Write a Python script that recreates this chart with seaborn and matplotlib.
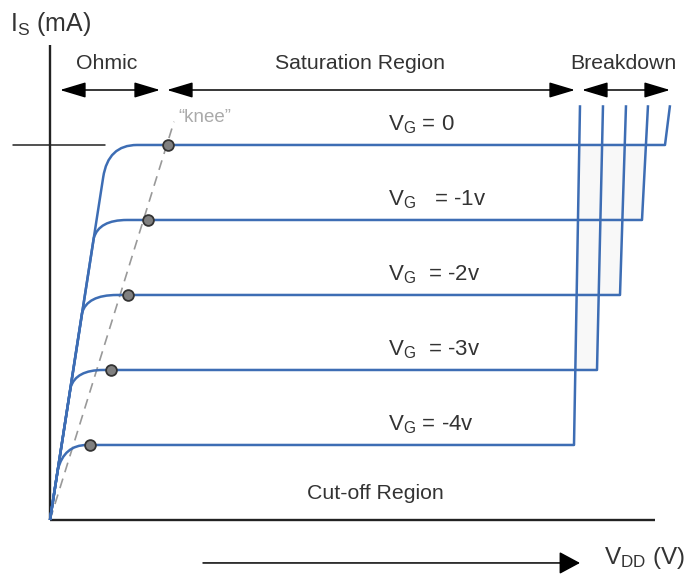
import numpy as np
import seaborn as sns
import matplotlib.pyplot as plt
from matplotlib.path import Path
from matplotlib.patches import PathPatch

sns.set_theme(style='white')
plt.rcParams['font.family'] = ['Liberation Sans', 'DejaVu Sans']
plt.rcParams['mathtext.fontset'] = 'custom'
plt.rcParams['mathtext.rm'] = 'Liberation Sans'
plt.rcParams['mathtext.it'] = 'Liberation Sans:italic'

# gate voltage curves (x = V_DD in V, y = I_S in mA)
vg_labels = ['$\\mathrm{V_G}$ = 0', '$\\mathrm{V_G}$   = -1v', '$\\mathrm{V_G}$  = -2v',
             '$\\mathrm{V_G}$  = -3v', '$\\mathrm{V_G}$ = -4v']
i_sat = [5.0, 4.0, 3.0, 2.0, 1.0]
branch_v = [2.66, 2.19, 1.6, 1.03, 0.39]
branch_i = [4.57, 3.76, 2.76, 1.77, 0.67]
bend_v = [2.9, 2.45, 1.85, 1.3, 0.7]
flat_v = [4.35, 3.85, 3.35, 2.65, 1.85]
knee_v = [5.9, 4.9, 3.9, 3.05, 2.0]
break_v = [30.75, 29.6, 28.5, 27.35, 26.2]
break_top_v = [31.0, 29.9, 28.8, 27.65, 26.5]
break_top_i = 5.53

knee_line_v = [0.0, 6.2]
knee_line_i = [0.0, 5.31]

blue = '#3d6db4'
txt = '#333333'
fs = 15.3

fig = plt.figure(figsize=(6.98, 5.79), dpi=100)
ax = fig.add_axes([0, 0, 1, 1])
ax.set_xlim(-2.5, 32.4)
ax.set_ylim(-0.787, 6.933)
ax.axis('off')


def break_x(j, i):
    # x of the (slightly slanted) breakdown line of curve j at current i
    return break_v[j] + (i - i_sat[j]) / (break_top_i - i_sat[j]) * (break_top_v[j] - break_v[j])


# faint shading between breakdown lines
for k in range(1, 4):
    j = k + 1
    poly = [(break_x(j, i_sat[k]), i_sat[k]), (break_v[k], i_sat[k]),
            (break_x(k, i_sat[0]), i_sat[0]), (break_x(j, i_sat[0]), i_sat[0])]
    ax.fill([p[0] for p in poly], [p[1] for p in poly], color='#f8f8f8', zorder=1, lw=0)

# axes
ax.plot([0, 0], [0, 6.33], color='#222222', lw=1.7, zorder=2, solid_capstyle='butt')
ax.plot([0, 30.25], [0, 0], color='#222222', lw=1.7, zorder=2, solid_capstyle='butt')
ax.plot([-1.85, 2.75], [5.0, 5.0], color='#222222', lw=1.1, zorder=2)

# curves
for k in range(5):
    verts = [(0, 0), (branch_v[k], branch_i[k]), (bend_v[k], i_sat[k]), (flat_v[k], i_sat[k]),
             (break_v[k], i_sat[k]), (break_top_v[k], break_top_i)]
    codes = [Path.MOVETO, Path.LINETO, Path.CURVE3, Path.CURVE3, Path.LINETO, Path.LINETO]
    ax.add_patch(PathPatch(Path(verts, codes), fill=False, edgecolor=blue, lw=1.8,
                           joinstyle='round', zorder=3))
    ax.text(16.9, i_sat[k] + 0.27, vg_labels[k], fontsize=16, color=txt, va='center', ha='left')

# knee line and knee points
sns.lineplot(x=knee_line_v, y=knee_line_i, ax=ax, color='#999999', lw=1.2,
             linestyle=(0, (6, 4)), zorder=2)
sns.scatterplot(x=knee_v, y=i_sat, ax=ax, s=60, color='#808080', edgecolor='#333333',
                linewidth=1.3, zorder=5)
ax.text(6.4, 5.36, '\u201cknee\u201d', fontsize=13.5, color='#aaaaaa', va='center', ha='left')

# region arrows
arrow_kw = dict(arrowstyle='<|-|>,head_length=0.8,head_width=0.24', color='black',
                lw=1.1, shrinkA=0, shrinkB=0, mutation_scale=20)
for x0, x1 in [(0.5, 5.5), (5.85, 26.25), (26.6, 31.0)]:
    ax.annotate('', xy=(x1, 5.733), xytext=(x0, 5.733), arrowprops=arrow_kw)
ax.text(2.85, 6.09, 'Ohmic', fontsize=fs, color=txt, ha='center', va='center')
ax.text(15.5, 6.09, 'Saturation Region', fontsize=fs, color=txt, ha='center', va='center')
ax.text(28.65, 6.09, 'Breakdown', fontsize=fs, color=txt, ha='center', va='center')
ax.text(16.25, 0.347, 'Cut-off Region', fontsize=fs, color=txt, ha='center', va='center')

# axis labels
ax.annotate('', xy=(26.5, -0.573), xytext=(7.65, -0.573),
            arrowprops=dict(arrowstyle='-|>,head_length=0.65,head_width=0.35', color='black',
                            lw=1.1, shrinkA=0, shrinkB=0, mutation_scale=20))
ax.text(-2.0, 6.613, '$\\mathrm{I_S}$ (mA)', fontsize=18, color=txt, ha='left', va='center')
ax.text(27.7, -0.507, '$\\mathrm{V_{DD}}$ (V)', fontsize=17.5, color=txt, ha='left', va='center')

fig.savefig('out.png', dpi=100)
